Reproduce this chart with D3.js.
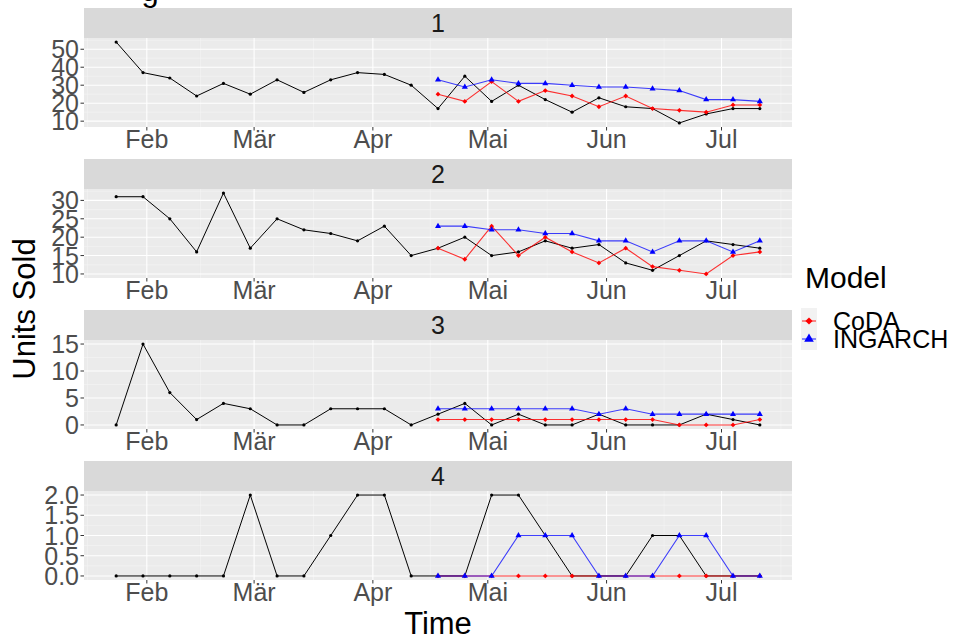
<!DOCTYPE html>
<html>
<head>
<meta charset="utf-8">
<script src="https://cdn.jsdelivr.net/npm/d3@7"></script>
<style>
  body { margin: 0; background: #fff; }
  svg { display: block; font-family: "Liberation Sans", Arial, sans-serif; }
</style>
</head>
<body>
<div id="chart"></div>
<script>
// Chart size
const width = 957;
const height = 640;

// weekly observation dates (actual sales)
const weeks = ["2022-01-24","2022-01-31","2022-02-07","2022-02-14","2022-02-21","2022-02-28",
  "2022-03-07","2022-03-14","2022-03-21","2022-03-28","2022-04-04","2022-04-11","2022-04-18",
  "2022-04-25","2022-05-02","2022-05-09","2022-05-16","2022-05-23","2022-05-30","2022-06-06",
  "2022-06-13","2022-06-20","2022-06-27","2022-07-04","2022-07-11"];
// weeks that have forecasts
const forecastWeeks = ["2022-04-18","2022-04-25","2022-05-02","2022-05-09","2022-05-16",
  "2022-05-23","2022-05-30","2022-06-06","2022-06-13","2022-06-20","2022-06-27","2022-07-04","2022-07-11"];

const panelNames = ["1", "2", "3", "4"];

// actual units sold per panel
const actual1 = [54,37,34,24,31,25,33,26,33,37,36,30,17,35,21,30,22,15,23,18,17,9,14,17,17];
const actual2 = [31,31,25,16,32,17,25,22,21,19,23,15,17,20,15,16,19,17,18,13,11,15,19,18,17];
const actual3 = [0,15,6,1,4,3,0,0,3,3,3,0,2,4,0,2,0,0,2,0,0,0,2,1,0];
const actual4 = [0,0,0,0,0,2,0,0,1,2,2,0,0,0,2,2,1,0,0,0,1,1,0,0,0];

// CoDA forecasts
const coda1 = [25,21,32,21,27,24,18,24,17,16,15,19,19];
const coda2 = [17,14,23,15,20,16,13,17,12,11,10,15,16];
const coda3 = [1,1,1,1,1,1,1,1,1,0,0,0,1];
const coda4 = [0,0,0,0,0,0,0,0,0,0,0,0,0];

// INGARCH forecasts
const ingarch1 = [33,29,33,31,31,30,29,29,28,27,22,22,21];
const ingarch2 = [23,23,22,22,21,21,19,19,16,19,19,16,19];
const ingarch3 = [3,3,3,3,3,3,2,3,2,2,2,2,2];
const ingarch4 = [0,0,0,1,1,1,0,0,0,1,1,0,0];

// axis ticks
const monthTicks = ["2022-02-01","2022-03-01","2022-04-01","2022-05-01","2022-06-01","2022-07-01"];
const monthLabels = ["Feb", "Mär", "Apr", "Mai", "Jun", "Jul"];
const yTicks = [[10,20,30,40,50], [10,15,20,25,30], [0,5,10,15], [0,0.5,1,1.5,2]];
const yLabels = [["10","20","30","40","50"], ["10","15","20","25","30"], ["0","5","10","15"],
  ["0.0","0.5","1.0","1.5","2.0"]];

const models = ["CoDA", "INGARCH"];
const modelColors = ["#ff0000", "#0000ff"];

const actuals = [actual1, actual2, actual3, actual4];
const codas = [coda1, coda2, coda3, coda4];
const ingarchs = [ingarch1, ingarch2, ingarch3, ingarch4];

// layout
const left = 84, right = 792;
const stripTops = [8, 159, 310, 461];
const stripH = 30, plotH = 89;

const parse = d3.utcParse("%Y-%m-%d");
const weekDates = weeks.map(parse);
const fcDates = forecastWeeks.map(parse);

// x scale with ggplot-like 5% expansion
const xExt = d3.extent(weekDates);
const xPad = (xExt[1] - xExt[0]) * 0.05;
const x = d3.scaleUtc()
  .domain([new Date(+xExt[0] - xPad), new Date(+xExt[1] + xPad)])
  .range([left, right]);

const svg = d3.select("#chart").append("svg")
  .attr("width", width)
  .attr("height", height);

// cut-off title remnant at the very top
svg.append("text")
  .attr("x", 150).attr("y", 1)
  .attr("text-anchor", "middle")
  .style("font-size", "31px")
  .text("g");

// minor x grid: midpoints between month breaks
const monthAll = ["2022-01-01", ...monthTicks, "2022-08-01"].map(parse);
const xMinor = d3.pairs(monthAll).map(([a, b]) => new Date((+a + +b) / 2))
  .filter(d => d > x.domain()[0] && d < x.domain()[1]);

const triangle = d3.symbol().type(d3.symbolTriangle).size(16);
const diamond = r => `M0,${-r}L${r},0L0,${r}L${-r},0Z`;

panelNames.forEach((name, i) => {
  const top = stripTops[i] + stripH;
  const bottom = top + plotH;

  // y scale, expanded 5% on both sides
  const all = actuals[i].concat(codas[i], ingarchs[i]);
  const [mn, mx] = d3.extent(all);
  const pad = (mx - mn) * 0.05;
  const y = d3.scaleLinear().domain([mn - pad, mx + pad]).range([bottom, top]);

  const g = svg.append("g");

  // strip
  g.append("rect")
    .attr("x", left).attr("y", stripTops[i])
    .attr("width", right - left).attr("height", stripH)
    .attr("fill", "#d9d9d9");
  g.append("text")
    .attr("x", (left + right) / 2).attr("y", stripTops[i] + stripH / 2)
    .attr("dy", "0.36em")
    .attr("text-anchor", "middle")
    .attr("fill", "#1a1a1a")
    .style("font-size", "25px")
    .text(name);

  // panel background
  g.append("rect")
    .attr("x", left).attr("y", top)
    .attr("width", right - left).attr("height", plotH)
    .attr("fill", "#ebebeb");

  // minor grid
  const t = yTicks[i];
  const step = t[1] - t[0];
  const yMinor = d3.range(t.length + 1).map(k => t[0] - step / 2 + k * step)
    .filter(v => v > y.domain()[0] && v < y.domain()[1]);
  g.selectAll(".ymin").data(yMinor).enter().append("line")
    .attr("x1", left).attr("x2", right)
    .attr("y1", d => y(d)).attr("y2", d => y(d))
    .attr("stroke", "#f5f5f5").attr("stroke-width", 0.6);
  g.selectAll(".xmin").data(xMinor).enter().append("line")
    .attr("x1", d => x(d)).attr("x2", d => x(d))
    .attr("y1", top).attr("y2", bottom)
    .attr("stroke", "#f5f5f5").attr("stroke-width", 0.6);

  // major grid
  g.selectAll(".ymaj").data(t).enter().append("line")
    .attr("x1", left).attr("x2", right)
    .attr("y1", d => y(d)).attr("y2", d => y(d))
    .attr("stroke", "#fff").attr("stroke-width", 1.1);
  g.selectAll(".xmaj").data(monthTicks.map(parse)).enter().append("line")
    .attr("x1", d => x(d)).attr("x2", d => x(d))
    .attr("y1", top).attr("y2", bottom)
    .attr("stroke", "#fff").attr("stroke-width", 1.1);

  // y axis ticks + labels
  g.selectAll(".ytick").data(t).enter().append("line")
    .attr("x1", left - 3.5).attr("x2", left)
    .attr("y1", d => y(d)).attr("y2", d => y(d))
    .attr("stroke", "#333").attr("stroke-width", 1);
  g.selectAll(".ylab").data(t).enter().append("text")
    .attr("x", left - 5).attr("y", d => y(d))
    .attr("dy", "0.36em")
    .attr("text-anchor", "end")
    .attr("fill", "#4d4d4d")
    .style("font-size", "25px")
    .text((d, k) => yLabels[i][k]);

  // x axis ticks + labels
  g.selectAll(".xtick").data(monthTicks.map(parse)).enter().append("line")
    .attr("x1", d => x(d)).attr("x2", d => x(d))
    .attr("y1", bottom).attr("y2", bottom + 3.5)
    .attr("stroke", "#333").attr("stroke-width", 1);
  g.selectAll(".xlab").data(monthTicks.map(parse)).enter().append("text")
    .attr("x", d => x(d)).attr("y", bottom + 21)
    .attr("text-anchor", "middle")
    .attr("fill", "#4d4d4d")
    .style("font-size", "25px")
    .text((d, k) => monthLabels[k]);

  const line = d3.line().x(d => x(d[0])).y(d => y(d[1]));

  // actual series
  const act = weekDates.map((d, k) => [d, actuals[i][k]]);
  g.append("path").datum(act)
    .attr("d", line)
    .attr("fill", "none").attr("stroke", "#000").attr("stroke-width", 1);
  g.selectAll(".pt").data(act).enter().append("circle")
    .attr("cx", d => x(d[0])).attr("cy", d => y(d[1]))
    .attr("r", 1.6).attr("fill", "#000");

  // CoDA forecast
  const cd = fcDates.map((d, k) => [d, codas[i][k]]);
  g.append("path").datum(cd)
    .attr("d", line)
    .attr("fill", "none").attr("stroke", modelColors[0])
    .attr("stroke-opacity", 0.8).attr("stroke-width", 1.1);
  g.selectAll(".cd").data(cd).enter().append("path")
    .attr("transform", d => `translate(${x(d[0])},${y(d[1])})`)
    .attr("d", diamond(2.4))
    .attr("fill", modelColors[0]);

  // INGARCH forecast
  const ig = fcDates.map((d, k) => [d, ingarchs[i][k]]);
  g.append("path").datum(ig)
    .attr("d", line)
    .attr("fill", "none").attr("stroke", modelColors[1])
    .attr("stroke-opacity", 0.75).attr("stroke-width", 1.1);
  g.selectAll(".ig").data(ig).enter().append("path")
    .attr("transform", d => `translate(${x(d[0])},${y(d[1])})`)
    .attr("d", triangle)
    .attr("fill", modelColors[1]);
});

// axis titles
svg.append("text")
  .attr("transform", "translate(35,309) rotate(-90)")
  .attr("text-anchor", "middle")
  .style("font-size", "31px")
  .text("Units Sold");
svg.append("text")
  .attr("x", (left + right) / 2).attr("y", 634)
  .attr("text-anchor", "middle")
  .style("font-size", "31px")
  .text("Time");

// legend
const legend = svg.append("g");
legend.append("text")
  .attr("x", 805).attr("y", 288)
  .style("font-size", "30px")
  .text("Model");
legend.append("rect")
  .attr("x", 801).attr("y", 308)
  .attr("width", 16).attr("height", 42)
  .attr("fill", "#f2f2f2");
const rowY = [321, 339];
models.forEach((m, k) => {
  legend.append("line")
    .attr("x1", 802).attr("x2", 816)
    .attr("y1", rowY[k]).attr("y2", rowY[k])
    .attr("stroke", modelColors[k]).attr("stroke-opacity", 0.8).attr("stroke-width", 1.1);
  legend.append("path")
    .attr("transform", `translate(809,${rowY[k]})`)
    .attr("d", k === 0 ? diamond(3.6) : d3.symbol().type(d3.symbolTriangle).size(40)())
    .attr("fill", modelColors[k]);
  legend.append("text")
    .attr("x", 833).attr("y", rowY[k])
    .attr("dy", "0.36em")
    .style("font-size", "25px")
    .text(m);
});
</script>
</body>
</html>
